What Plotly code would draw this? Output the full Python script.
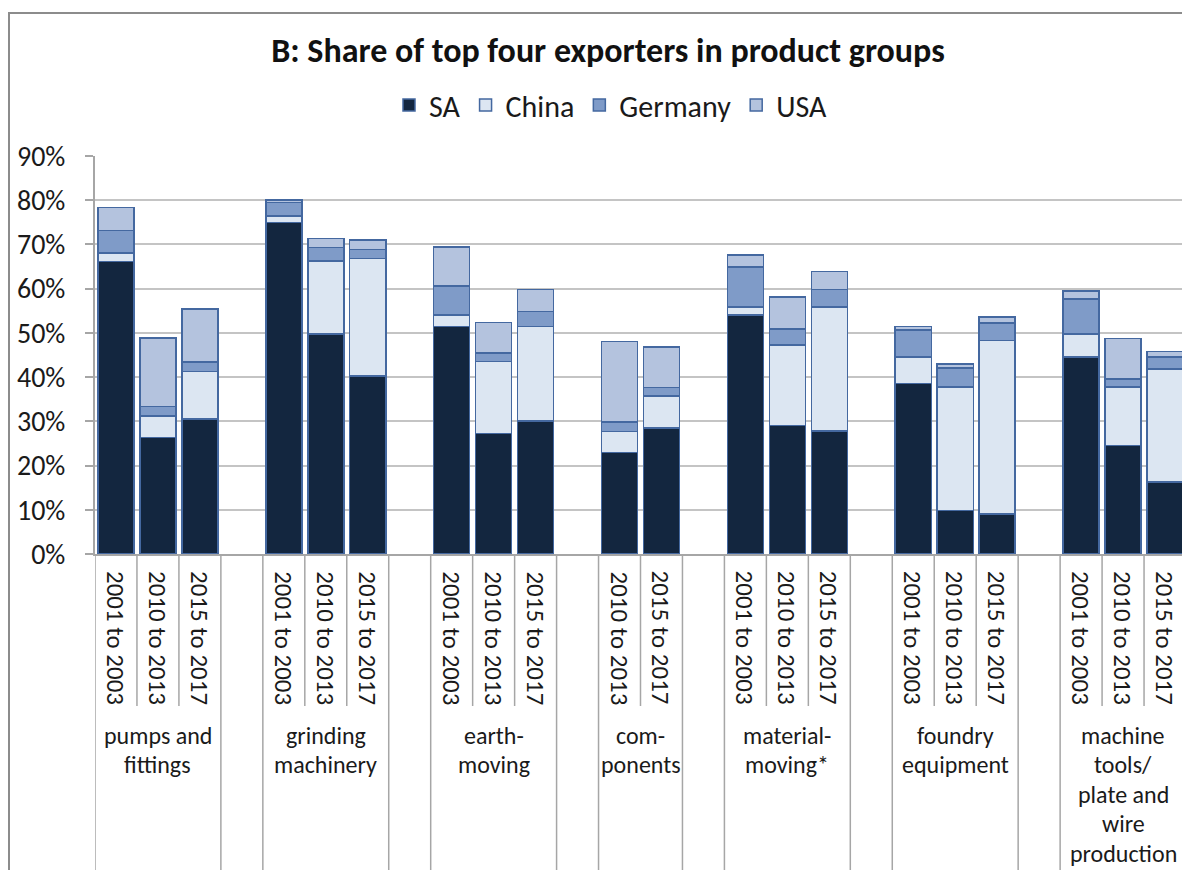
import plotly.graph_objects as go

# ---------------- data ----------------
group_labels = [
    "pumps and<br>fittings",
    "grinding<br>machinery",
    "earth-<br>moving",
    "com-<br>ponents",
    "material-<br>moving*",
    "foundry<br>equipment",
    "machine<br>tools/<br>plate and<br>wire<br>production",
]
group_periods = [
    ["2001 to 2003", "2010 to 2013", "2015 to 2017"],
    ["2001 to 2003", "2010 to 2013", "2015 to 2017"],
    ["2001 to 2003", "2010 to 2013", "2015 to 2017"],
    ["2010 to 2013", "2015 to 2017"],
    ["2001 to 2003", "2010 to 2013", "2015 to 2017"],
    ["2001 to 2003", "2010 to 2013", "2015 to 2017"],
    ["2001 to 2003", "2010 to 2013", "2015 to 2017"],
]
series_names = ["SA", "China", "Germany", "USA"]
sa = [66.2, 26.3, 30.5, 75.0, 49.7, 40.3, 51.5, 27.2, 30.1, 23.0, 28.5,
      54.0, 29.1, 27.8, 38.6, 9.8, 9.1, 44.5, 24.5, 16.3]
china = [1.9, 4.9, 10.8, 1.4, 16.6, 26.5, 2.5, 16.3, 21.3, 4.7, 7.2,
         1.8, 18.2, 28.0, 6.0, 28.0, 39.2, 5.2, 13.3, 25.5]
germany = [5.1, 2.1, 2.1, 3.1, 3.0, 2.1, 6.6, 2.0, 3.4, 2.1, 1.9,
           9.1, 3.6, 4.0, 6.0, 4.3, 3.9, 8.0, 1.8, 2.7]
usa = [5.1, 15.5, 12.0, 0.5, 2.1, 2.1, 8.8, 6.8, 5.0, 18.2, 9.2,
       2.7, 7.2, 4.1, 0.8, 0.9, 1.4, 1.8, 9.1, 1.3]
y_ticks = [0, 10, 20, 30, 40, 50, 60, 70, 80, 90]
y_tick_text = [f"{v}%" for v in y_ticks]

# ---------------- styling ----------------
colors = ["#13263f", "#dce6f2", "#7f9bc8", "#b4c3de"]
outline = "#4468a0"
FONT = "Carlito, Calibri, Lato, sans-serif"
sep_color = "#a6a6a6"
text_color = "#1a1a1a"

# positions: one empty slot between groups
positions = []
group_starts = []
pos = 0
for periods in group_periods:
    group_starts.append(pos)
    for _ in periods:
        positions.append(pos)
        pos += 1
    pos += 1  # gap
n_slots = pos - 1
period_labels = [p for periods in group_periods for p in periods]

fig = go.Figure()
for name, vals, col in zip(series_names, [sa, china, germany, usa], colors):
    fig.add_trace(go.Bar(
        x=positions, y=vals, name=name,
        marker=dict(color=col, line=dict(color=outline, width=1.5)),
    ))

# geometry: the page body has an 8px margin, so the figure is drawn 8px in
OFF = 8
W, H = 1190 - OFF, 870 - OFF
L = 95 - OFF
T = 156 - OFF
plot_right = 1186 - OFF
plot_bottom = 554 - OFF
R = W - plot_right
B = H - plot_bottom
plot_h = plot_bottom - T
plot_w = plot_right - L


def py(screen_y):
    return (plot_bottom - (screen_y - OFF)) / plot_h


def px(screen_x):
    return ((screen_x - OFF) - L) / plot_w


def cy(screen_y):
    return 1 - (screen_y - OFF) / H


def cx_(screen_x):
    return (screen_x - OFF) / W


shapes = []
full_bottom = py(900)
short_bottom = py(706)
boundaries_full = set()
boundaries_short = set()
for start, periods in zip(group_starts, group_periods):
    boundaries_full.add(start - 0.5)
    boundaries_full.add(start + len(periods) - 0.5)
    for k in range(1, len(periods)):
        boundaries_short.add(start + k - 0.5)
for b in sorted(boundaries_full):
    shapes.append(dict(type="line", xref="x", yref="paper", x0=b, x1=b,
                       y0=0, y1=full_bottom, line=dict(color=sep_color, width=1.5)))
for b in sorted(boundaries_short):
    shapes.append(dict(type="line", xref="x", yref="paper", x0=b, x1=b,
                       y0=0, y1=short_bottom, line=dict(color=sep_color, width=1.5)))
# chart border
shapes.append(dict(type="rect", xref="paper", yref="paper",
                   x0=px(9), x1=px(1230), y0=py(13), y1=py(900),
                   line=dict(color="#8c8c8c", width=2), fillcolor="rgba(0,0,0,0)",
                   layer="below"))

annotations = []
for x, lab in zip(positions, period_labels):
    annotations.append(dict(x=x, y=py(569), xref="x", yref="paper", text=lab,
                            textangle=90, showarrow=False, yanchor="top",
                            xanchor="center",
                            font=dict(family=FONT, size=25, color=text_color)))
line_step = 29.5
for start, periods, lab in zip(group_starts, group_periods, group_labels):
    gx = start + (len(periods) - 1) / 2
    for i, line in enumerate(lab.split("<br>")):
        annotations.append(dict(x=gx, y=py(735 + i * line_step), xref="x", yref="paper",
                                text=line, showarrow=False, yanchor="middle",
                                xanchor="center",
                                font=dict(family=FONT, size=24, color=text_color)))

fig.update_layout(
    width=W, height=H,
    margin=dict(l=L, r=R, t=T, b=B),
    paper_bgcolor="white", plot_bgcolor="white",
    barmode="stack", bargap=0.14,
    title=dict(text="<b>B: Share of top four exporters in product groups</b>",
               xref="container", x=cx_(608), xanchor="center",
               yref="container", y=cy(50), yanchor="middle",
               font=dict(family=FONT, size=34, color="#111111")),
    legend=dict(orientation="h", x=px(611), xanchor="center",
                y=py(105), yanchor="middle", traceorder="normal",
                font=dict(family=FONT, size=30, color=text_color),
                bgcolor="rgba(0,0,0,0)"),
    xaxis=dict(range=[-0.5, n_slots - 0.5], showticklabels=False, showgrid=False,
               zeroline=False, showline=True, linecolor=sep_color, linewidth=2,
               ticks=""),
    yaxis=dict(range=[0, 90], tickvals=y_ticks, ticktext=y_tick_text,
               showgrid=True, gridcolor="#c4c4c4", gridwidth=1.5,
               zeroline=False, showline=True, linecolor=sep_color, linewidth=2,
               ticks="outside", ticklen=8, tickcolor=sep_color, tickwidth=1.5,
               ticklabelstandoff=14,
               tickfont=dict(family=FONT, size=28, color=text_color)),
    shapes=shapes, annotations=annotations,
    showlegend=True,
)

fig.write_html("out.html")
